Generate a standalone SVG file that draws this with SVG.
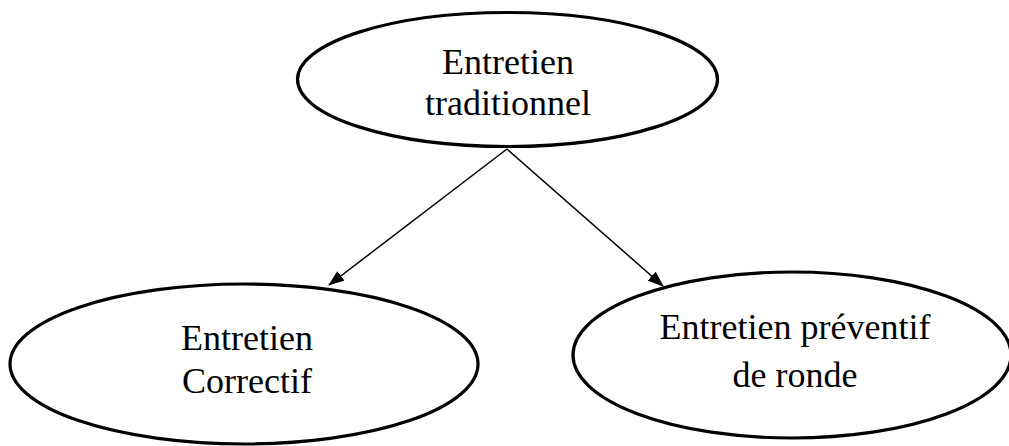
<svg xmlns="http://www.w3.org/2000/svg" width="1009" height="446" viewBox="0 0 1009 446">
  <style>
    .node { fill: #ffffff; stroke: #000000; stroke-width: 3.2; }
    .label { font-family: "Liberation Serif", "Times New Roman", serif; font-size: 36px; fill: #000000; text-anchor: middle; }
    .edge { stroke: #000000; stroke-width: 1.5; fill: none; marker-end: url(#arrow); }
  </style>
  <defs>
    <marker id="arrow" markerWidth="16" markerHeight="12" refX="15" refY="6" orient="auto" markerUnits="userSpaceOnUse" viewBox="0 0 16 12">
      <path d="M0,0 L16,6 L0,12 Z" fill="#000000"/>
    </marker>
  </defs>
  <rect width="1009" height="446" fill="#ffffff"/>

  <g id="connectors">
    <line class="edge" x1="507" y1="149" x2="329" y2="285"/>
    <line class="edge" x1="507" y1="149" x2="663" y2="286"/>
  </g>

  <g id="node-traditionnel">
    <ellipse class="node" cx="507.5" cy="79.5" rx="210" ry="67"/>
    <text class="label" x="508" y="74">Entretien</text>
    <text class="label" x="508" y="115">traditionnel</text>
  </g>

  <g id="node-correctif">
    <ellipse class="node" cx="244" cy="364" rx="234" ry="80"/>
    <text class="label" x="247" y="350">Entretien</text>
    <text class="label" x="247" y="393">Correctif</text>
  </g>

  <g id="node-preventif">
    <ellipse class="node" cx="792" cy="355" rx="219" ry="83"/>
    <text class="label" x="795" y="339">Entretien préventif</text>
    <text class="label" x="795" y="387">de ronde</text>
  </g>
</svg>
